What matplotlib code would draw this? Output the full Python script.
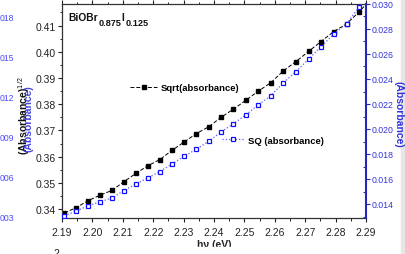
import matplotlib
matplotlib.use("Agg")
import matplotlib.pyplot as plt
from matplotlib.ticker import MultipleLocator, FormatStrFormatter
from matplotlib.patches import Rectangle

plt.rcParams['font.family'] = ['Liberation Sans', 'DejaVu Sans']
plt.rcParams['mathtext.fontset'] = 'custom'
plt.rcParams['mathtext.rm'] = 'Liberation Sans'
plt.rcParams['mathtext.bf'] = 'Liberation Sans:bold'

# photon energy (eV), one point per nm from 566 nm down to 542 nm
energy = [2.1908, 2.1947, 2.1986, 2.2025, 2.2064, 2.2103, 2.2143, 2.2182,
          2.2222, 2.2262, 2.2302, 2.2342, 2.2383, 2.2423, 2.2464, 2.2505,
          2.2545, 2.2587, 2.2628, 2.2669, 2.2711, 2.2752, 2.2794, 2.2836,
          2.2878, 2.2920]
sqrt_abs = [0.3385, 0.3406, 0.3432, 0.3453, 0.3471, 0.3504, 0.3536, 0.3565,
            0.3589, 0.3624, 0.3656, 0.3688, 0.3714, 0.3750, 0.3781, 0.3815,
            0.3849, 0.3882, 0.3927, 0.3962, 0.4001, 0.4039, 0.4077, 0.4106,
            0.4153, 0.4205]
sq_abs = [0.01306, 0.01344, 0.01386, 0.01418, 0.01448, 0.01506, 0.01560,
          0.01608, 0.01660, 0.01720, 0.01782, 0.01838, 0.01902, 0.01976,
          0.02042, 0.02114, 0.02192, 0.02266, 0.02370, 0.02458, 0.02558,
          0.02658, 0.02760, 0.02840, 0.02978, 0.03090]

left_fragments = ['018', '015', '012', '009', '006', '003']
# sample name pieces: (text, is_subscript)
title_parts = [('BiOBr', False), ('0.875', True), ('I', False), ('0.125', True)]

W, H = 405, 255
fig = plt.figure(figsize=(W / 100, H / 100), dpi=100)
ax = fig.add_axes([62 / W, 1 - 219 / H, 304 / W, 214 / H])
ax2 = ax.twinx()

dark = '#222222'
blue_ax = '#2626b8'
blue_txt = '#3333dd'

l1, = ax.plot(energy, sqrt_abs, ls=(0, (4, 2)), color='black', lw=0.7,
              marker='s', ms=3.5, mfc='black', mec='black',
              label='Sqrt(absorbance)')
l2, = ax2.plot(energy, sq_abs, ls=':', color='#5a5aff', lw=0.9,
               marker='s', ms=3.0, mfc='white', mec='#1010ff', mew=0.9,
               label='SQ (absorbance)')

ax.set_xlim(2.19, 2.29)
ax.set_ylim(0.3366, 0.4182)
ax2.set_ylim(0.01288, 0.030)

ax.xaxis.set_major_locator(MultipleLocator(0.01))
ax.xaxis.set_minor_locator(MultipleLocator(0.005))
ax.xaxis.set_major_formatter(FormatStrFormatter('%.2f'))
ax.yaxis.set_major_locator(MultipleLocator(0.01))
ax.yaxis.set_minor_locator(MultipleLocator(0.005))
ax.yaxis.set_major_formatter(FormatStrFormatter('%.2f'))
ax2.yaxis.set_major_locator(MultipleLocator(0.002))
ax2.yaxis.set_minor_locator(MultipleLocator(0.001))
ax2.yaxis.set_major_formatter(FormatStrFormatter('%.3f'))

ax.tick_params(which='major', direction='out', length=3.2, width=0.8,
               color=dark, labelcolor=dark, labelsize=7.5, pad=1.5)
ax.tick_params(which='minor', direction='out', length=1.8, width=0.7,
               color=dark)
ax.tick_params(axis='x', which='both', top=True, labeltop=False)
ax.tick_params(axis='x', which='major', pad=3)
ax2.tick_params(axis='y', which='major', direction='out', length=3,
                width=0.8, color=blue_ax, labelcolor=blue_txt,
                labelsize=6.3, pad=1)
ax2.tick_params(axis='y', which='minor', direction='in', length=2,
                width=0.7, color=blue_ax)

for s in ['left', 'bottom', 'top']:
    ax.spines[s].set_color('#333333')
    ax.spines[s].set_linewidth(0.9)
    ax2.spines[s].set_visible(False)
ax.spines['right'].set_visible(False)
ax2.spines['right'].set_color(blue_ax)
ax2.spines['right'].set_linewidth(1.5)

# sample name, built piece by piece so the subscripts keep Origin's size
x_px = 68
renderer = fig.canvas.get_renderer()
for txt, sub in title_parts:
    t = fig.text(x_px / W, 1 - (26.5 if sub else 21) / H, txt,
                 ha='left', va='baseline', fontweight='bold',
                 fontsize=6.6 if sub else 7.4, color='#111111')
    x_px += t.get_window_extent(renderer).width + 0.6

leg1 = ax2.legend([l1], ['Sqrt(absorbance)'], loc='center left',
                  bbox_to_anchor=(130 / W, 1 - 89 / H),
                  bbox_transform=fig.transFigure, frameon=False,
                  borderpad=0, borderaxespad=0, handlelength=2.9,
                  handletextpad=0.35, prop={'weight': 'bold', 'size': 6.8})
ax2.add_artist(leg1)
ax2.legend([l2], ['SQ (absorbance)'], loc='center left',
           bbox_to_anchor=(222 / W, 1 - 141 / H),
           bbox_transform=fig.transFigure, frameon=False,
           borderpad=0, borderaxespad=0, handlelength=2.4,
           handletextpad=0.35, prop={'weight': 'bold', 'size': 6.8})

# overlapping axis titles on the left
fig.text(24 / W, 1 - 116 / H, r'(Absorbance)$^{1/2}$', rotation=90,
         ha='center', va='center', fontsize=7.5, fontweight='bold',
         color='#111111')
fig.text(29 / W, 1 - 119 / H, '(Absorbance)', rotation=90,
         ha='center', va='center', fontsize=7.5, fontweight='bold',
         color=blue_txt, alpha=0.9)
fig.text(398 / W, 1 - 114 / H, '(Absorbance)', rotation=270,
         ha='center', va='center', fontsize=7.5, fontweight='bold',
         color=blue_txt)

# tick labels of a neighbouring plot cut by the crop
for i, lab in enumerate(left_fragments):
    fig.text(0, 1 - (18.5 + 40 * i) / H, lab, ha='left', va='center',
             fontsize=6.2, color='#4a4aff')

fig.text(214 / W, 1 - 240 / H, 'hν (eV)', ha='center', va='top',
         fontsize=7.5, fontweight='bold', color=dark)
fig.patches.append(Rectangle((180 / W, 0), 80 / W, 7 / H,
                             transform=fig.transFigure, color='white',
                             zorder=5))
fig.text(56 / W, 1 - 249 / H, '2', ha='center', va='top', fontsize=7.5,
         color=dark)
fig.patches.append(Rectangle((401 / W, 0), 4 / W, 1,
                             transform=fig.transFigure, color='#e6e6e6',
                             zorder=0))

fig.savefig('out.png', dpi=100)
